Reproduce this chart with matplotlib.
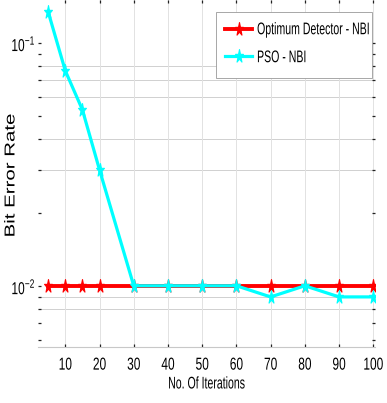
import matplotlib
matplotlib.use('Agg')
import matplotlib.pyplot as plt
from matplotlib.ticker import LogLocator, FixedLocator, NullFormatter
from matplotlib.patheffects import AbstractPathEffect
from matplotlib.markers import MarkerStyle
from matplotlib.transforms import Affine2D
from matplotlib.patches import Rectangle

iters = [5, 10, 15, 20, 30, 40, 50, 60, 70, 80, 90, 100]
ber_opt = [0.01, 0.01, 0.01, 0.01, 0.01, 0.01, 0.01, 0.01, 0.01, 0.01, 0.01, 0.01]
ber_pso = [0.134, 0.0767, 0.053, 0.030, 0.01, 0.01, 0.01, 0.01, 0.009, 0.01, 0.009, 0.009]
xticks = [10, 20, 30, 40, 50, 60, 70, 80, 90, 100]
grid_levels = [0.08, 0.07, 0.06, 0.04, 0.03, 0.009, 0.008]


class Stretch(AbstractPathEffect):
    # rescale glyphs about their ink centre, the reference text is squashed
    def __init__(self, sx=1.0, sy=1.5):
        super().__init__()
        self.sx = sx
        self.sy = sy

    def draw_path(self, renderer, gc, tpath, affine, rgbFace=None):
        ext = tpath.get_extents()
        cx = (ext.x0 + ext.x1) / 2
        cy = (ext.y0 + ext.y1) / 2
        t = Affine2D().translate(-cx, -cy).scale(self.sx, self.sy).translate(cx, cy)
        renderer.draw_path(gc, tpath, t + affine, rgbFace)


plt.rcParams['font.family'] = ['Liberation Sans', 'DejaVu Sans']

star = MarkerStyle('*')
star_path = star.get_path().transformed(star.get_transform() + Affine2D().scale(0.6, 1))

fig = plt.figure(figsize=(3.87, 4.03), dpi=100)
ax = fig.add_axes([0.098, 0.139, 0.871, 0.861])

ax.plot(iters, ber_opt, color='#ff0000', lw=2.8, marker=star_path, ms=10, mew=0.8,
        label='Optimum Detector - NBI')
ax.plot(iters, ber_pso, color='#00ffff', lw=2.3, marker=star_path, ms=10, mew=0.8,
        label='PSO - NBI')

ax.set_yscale('log')
ax.set_xlim(2, 100.5)
ax.set_ylim(0.0056, 0.15)
ax.xaxis.set_major_locator(FixedLocator(xticks))
ax.yaxis.set_major_locator(LogLocator(base=10))
ax.yaxis.set_minor_locator(LogLocator(base=10, subs=range(2, 10)))
ax.yaxis.set_minor_formatter(NullFormatter())

ax.grid(True, which='major', axis='x', color='#e2e2e2', lw=0.7)
ax.hlines(grid_levels, 2, 100.5, colors='#d0d0d0', lw=0.7, zorder=0.5)
ax.tick_params(which='both', direction='in', top=True, right=True,
               length=2, width=0.9, color='#222222', labelsize=8.6)
ax.tick_params(axis='x', pad=8.5)
ax.tick_params(axis='y', pad=1.5)
for k in ['left', 'right', 'top']:
    ax.spines[k].set_visible(False)
ax.spines['bottom'].set_color('#c8c8c8')
ax.spines['bottom'].set_linewidth(0.8)

ax.set_xlabel('No. Of Iterations', fontsize=7.6, va='top')
ax.xaxis.set_label_coords(0.5, -0.09)
ax.set_ylabel('Bit Error Rate', fontsize=11.5)
ax.yaxis.set_label_coords(-0.059, 0.495)

leg = ax.legend(loc='upper left', bbox_to_anchor=(0.528, 0.955), fontsize=7.6,
                frameon=False, borderaxespad=0, borderpad=0.85,
                handlelength=2.6, handletextpad=0.45, labelspacing=1.65)
ax.add_patch(Rectangle((0.528, 0.775), 0.463, 0.19, transform=ax.transAxes,
                       facecolor='white', edgecolor='#999999', lw=0.6, zorder=4))
leg.set_zorder(5)

fig.canvas.draw()
for lab in ax.get_xticklabels() + ax.get_yticklabels():
    lab.set_path_effects([Stretch(1.0, 1.45)])
ax.xaxis.label.set_path_effects([Stretch(1.0, 1.6)])
ax.yaxis.label.set_path_effects([Stretch(1.28, 0.9)])
for t in leg.get_texts():
    t.set_path_effects([Stretch(1.0, 1.6)])

fig.savefig('out.png', dpi=100)
